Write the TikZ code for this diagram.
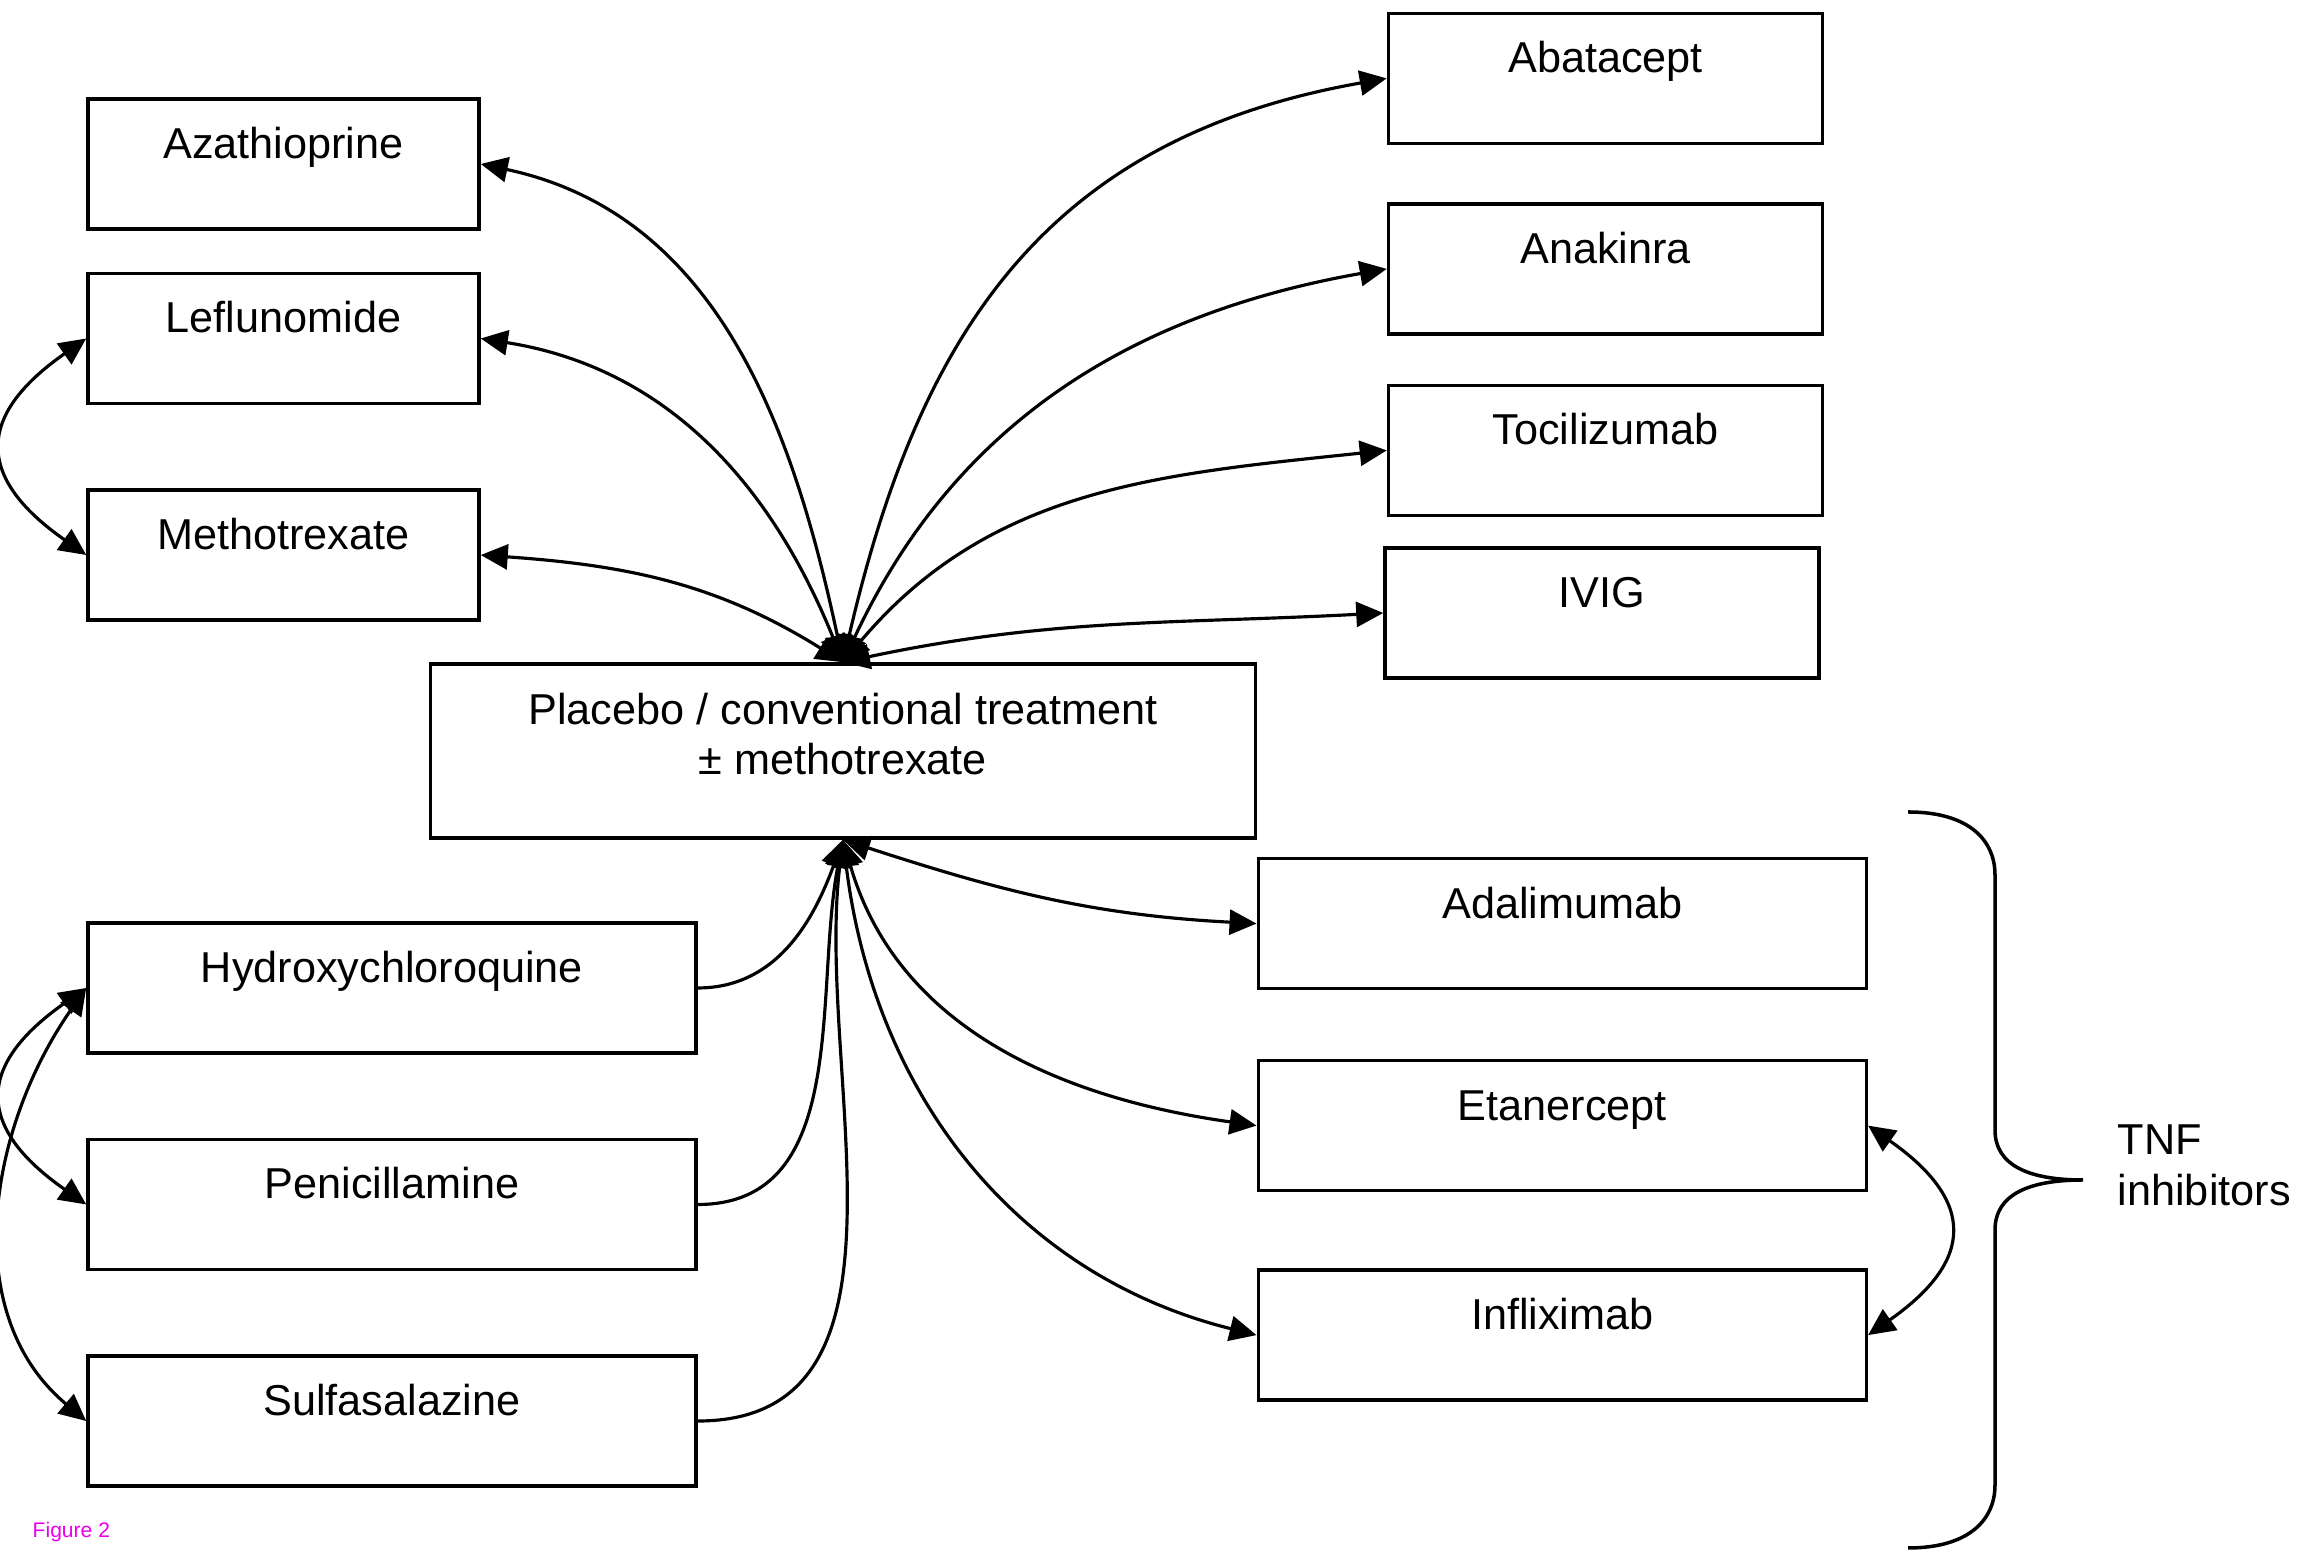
\documentclass[tikz,border=0pt]{standalone}
\usepackage{fontspec}
\setmainfont{Liberation Sans}
\usepackage{tikz}
\usetikzlibrary{positioning,arrows.meta}
\definecolor{figMagenta}{RGB}{236,0,236}

\begin{document}
\begin{tikzpicture}[
  drug/.style={rectangle,draw,line width=1pt,inner sep=0pt,minimum height=1.3cm,text height=0.595cm,text depth=0.705cm,font=\fontsize{12.3}{14.2}\selectfont},
  dmard/.style={drug,minimum width=3.91cm},
  biolog/.style={drug,minimum width=4.34cm},
  wide/.style={drug,minimum width=6.08cm},
  link/.style={<->,>={Triangle[length=0.27cm,width=0.25cm]},line width=0.9pt},
  brace/.style={line width=1pt}
]
  \useasboundingbox (0,0) rectangle (22.97,15.51);

  % centre box
  \node[drug,minimum width=8.25cm,minimum height=1.74cm,text height=0.605cm,text depth=1.135cm] (plac) at (8.43,8.0)
    {\begin{tabular}[t]{@{}c@{}}Placebo / conventional treatment\\± methotrexate\end{tabular}};

  % upper left
  \node[dmard] (aza) at (2.835,13.87) {Azathioprine};
  \node[dmard,below=0.41cm of aza] (lefl) {Leflunomide};
  \node[dmard,below=0.83cm of lefl] (meth) {Methotrexate};

  % upper right
  \node[biolog] (abat) at (16.055,14.726) {Abatacept};
  \node[biolog,below=0.57cm of abat] (anak) {Anakinra};
  \node[biolog,below=0.48cm of anak] (toci) {Tocilizumab};
  \node[biolog] (ivig) at (16.02,9.38) {IVIG};

  % lower left
  \node[wide] (hyd) at (3.92,5.63) {Hydroxychloroquine};
  \node[wide,below=0.83cm of hyd] (pen) {Penicillamine};
  \node[wide,below=0.83cm of pen] (sul) {Sulfasalazine};

  % lower right
  \node[wide] (adal) at (15.623,6.274) {Adalimumab};
  \node[wide,below=0.685cm of adal] (etan) {Etanercept};
  \node[wide,below=0.76cm of etan] (infl) {Infliximab};

  % connectors to the centre box
  \draw[link] (plac.north) to[out=102,in=-12] (aza.east);
  \draw[link] (plac.north) to[out=112,in=-9] (lefl.east);
  \draw[link] (plac.north) to[out=148,in=-4] (meth.east);
  \draw[link] (plac.north) to[out=77,in=190,looseness=1.1] (abat.west);
  \draw[link] (plac.north) to[out=65,in=190] (anak.west);
  \draw[link] (plac.north) to[out=50,in=186] (toci.west);
  \draw[link] (plac.north) to[out=12,in=183] (ivig.west);

  \draw[link,->] (hyd.east) to[out=0,in=250] (plac.south);
  \draw[link,->] (pen.east) to[out=0,in=259] (plac.south);
  \draw[link,->] (sul.east) to[out=0,in=263] (plac.south);
  \draw[link] (plac.south) to[out=-18,in=177] (adal.west);
  \draw[link] (plac.south) to[out=-74,in=172] (etan.west);
  \draw[link] (plac.south) to[out=-83,in=166] (infl.west);

  % between boxes
  \draw[link] (lefl.west) to[out=215,in=145,looseness=1.6] (meth.west);
  \draw[link] (hyd.west) to[out=215,in=145,looseness=1.6] (pen.west);
  \draw[link] (hyd.west) to[out=235,in=140] (sul.west);
  \draw[link] (etan.east) to[out=-35,in=35,looseness=1.6] (infl.east);

  % brace
  \draw[brace] (19.08,7.39) .. controls (19.7,7.39) and (19.95,7.1) .. (19.95,6.76)
    -- (19.95,4.21) .. controls (19.95,3.85) and (20.3,3.71) .. (20.83,3.71)
    .. controls (20.3,3.71) and (19.95,3.57) .. (19.95,3.21)
    -- (19.95,0.66) .. controls (19.95,0.32) and (19.7,0.03) .. (19.08,0.03);
  \node[anchor=west,align=left,inner sep=0pt,font=\fontsize{12.3}{14.5}\selectfont] (tnf) at (21.17,3.86) {TNF\\inhibitors};

  \node[anchor=west,inner sep=0pt,text=figMagenta,font=\fontsize{6}{7}\selectfont] (fig) at (0.32,0.19) {Figure 2};
\end{tikzpicture}
\end{document}
